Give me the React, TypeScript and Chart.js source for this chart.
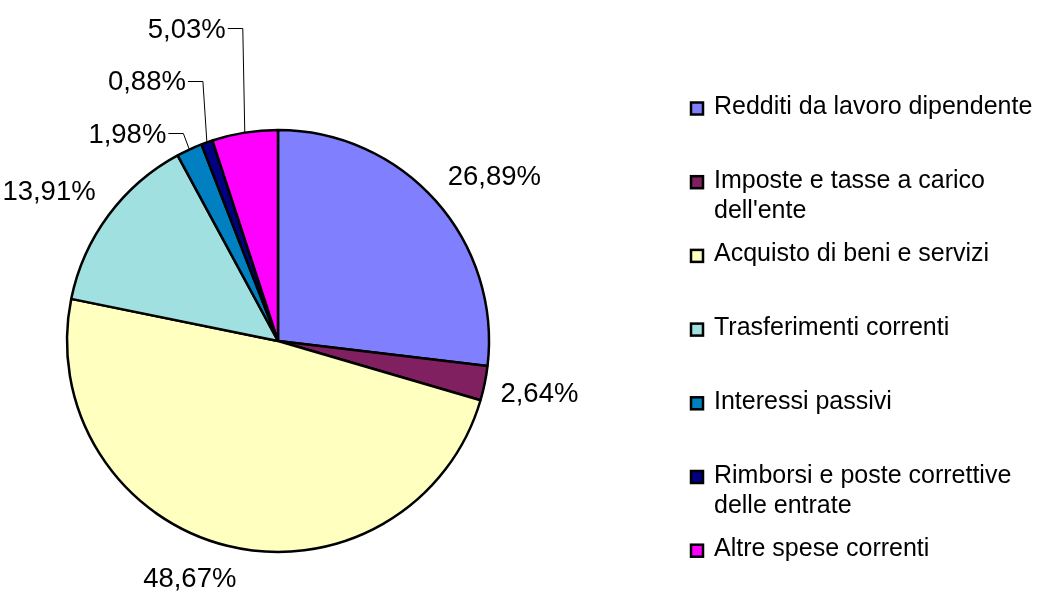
import React, { useEffect, useRef } from "react";
import { Chart, registerables } from "chart.js";

Chart.register(...registerables);

const categories = [
  "Redditi da lavoro dipendente",
  "Imposte e tasse a carico dell'ente",
  "Acquisto di beni e servizi",
  "Trasferimenti correnti",
  "Interessi passivi",
  "Rimborsi e poste correttive delle entrate",
  "Altre spese correnti",
];
const values = [26.89, 2.64, 48.67, 13.91, 1.98, 0.88, 5.03];
const colors = ["#8080FF", "#802060", "#FFFFC0", "#A0E0E0", "#0080C0", "#000080", "#FF00FF"];

const FONT = '"Liberation Sans", Arial, sans-serif';
const fmt = (v: number) => v.toFixed(2).replace(".", ",") + "%";
const clamp = (v: number) => Math.max(-1, Math.min(1, v));

const sliceLabels = {
  id: "sliceLabels",
  afterDatasetsDraw(chart: any) {
    const ctx = chart.ctx as CanvasRenderingContext2D;
    const meta = chart.getDatasetMeta(0);
    const fs = 27.5;
    ctx.save();
    ctx.font = `${fs}px ${FONT}`;
    ctx.fillStyle = "#000";
    ctx.strokeStyle = "#000";
    ctx.lineWidth = 1;
    const boxes = meta.data.map((arc: any, i: number) => {
      const p = arc.getProps(["x", "y", "startAngle", "endAngle", "outerRadius"], true);
      const a = (p.startAngle + p.endAngle) / 2;
      const dx = Math.cos(a);
      const dy = Math.sin(a);
      const text = fmt(values[i]);
      const w = ctx.measureText(text).width;
      const h = 31;
      const R = p.outerRadius + 16;
      const cx = p.x + R * dx + (w / 2) * clamp(3 * dx);
      const cy = p.y + R * dy + (h / 2) * clamp(2 * dy);
      return {
        text, w, h, cx, cy,
        ex: p.x + p.outerRadius * dx,
        ey: p.y + p.outerRadius * dy,
        px: p.x, py: p.y, r: p.outerRadius,
      };
    });
    const overlap = (a: any, b: any) =>
      Math.abs(a.cx - b.cx) < (a.w + b.w) / 2 && Math.abs(a.cy - b.cy) < (a.h + b.h) / 2;
    const crowded = boxes.map((b: any, k: number) =>
      boxes.some((o: any, j: number) => j !== k && overlap(b, o))
    );
    let k = 0;
    boxes.forEach((b: any, i: number) => {
      if (!crowded[i]) {
        ctx.textAlign = "center";
        ctx.textBaseline = "alphabetic";
        ctx.fillText(b.text, b.cx, b.cy + 0.355 * fs);
        return;
      }
      const ly = b.py - b.r + 3 - k * 52.5;
      const elbowX = b.ex - 6 + 2 * k;
      const right = elbowX - 17;
      ctx.beginPath();
      ctx.moveTo(right + 2, Math.round(ly) + 0.5);
      ctx.lineTo(elbowX, Math.round(ly) + 0.5);
      ctx.lineTo(b.ex, b.ey);
      ctx.stroke();
      ctx.textAlign = "right";
      ctx.textBaseline = "alphabetic";
      ctx.fillText(b.text, right, ly + 0.355 * fs);
      k++;
    });
    ctx.restore();
  },
};

const sideLegend = {
  id: "sideLegend",
  afterDraw(chart: any) {
    const ctx = chart.ctx as CanvasRenderingContext2D;
    const fs = 25;
    const left = chart.width - 350;
    const textX = left + 24;
    const maxW = 330;
    const firstBase = 114;
    const step = 73.7;
    const lineH = 30.5;
    ctx.save();
    ctx.font = `${fs}px ${FONT}`;
    ctx.textAlign = "left";
    ctx.textBaseline = "alphabetic";
    categories.forEach((label, i) => {
      const base = firstBase + i * step;
      const words = label.split(" ");
      const lines: string[] = [];
      let cur = "";
      words.forEach((w) => {
        const t = cur ? cur + " " + w : w;
        if (ctx.measureText(t).width > maxW && cur) {
          lines.push(cur);
          cur = w;
        } else cur = t;
      });
      if (cur) lines.push(cur);
      ctx.fillStyle = colors[i];
      ctx.fillRect(left + 1, base - 11.5, 12, 12);
      ctx.strokeStyle = "#000";
      ctx.lineWidth = 2.5;
      ctx.strokeRect(left + 1, base - 11.5, 12, 12);
      ctx.fillStyle = "#000";
      lines.forEach((ln, j) => ctx.fillText(ln, textX, base + j * lineH));
    });
    ctx.restore();
  },
};

export default function App() {
  const ref = useRef<HTMLCanvasElement>(null);
  useEffect(() => {
    if (!ref.current) return;
    const chart = new Chart(ref.current, {
      type: "pie",
      data: {
        labels: categories,
        datasets: [
          {
            data: values,
            backgroundColor: colors,
            borderColor: "#000",
            borderWidth: 2.5,
            radius: 211,
          } as any,
        ],
      },
      options: {
        responsive: false,
        animation: false,
        events: [],
        layout: { padding: { left: 0, right: 484, top: 87, bottom: 0 } },
        plugins: {
          legend: { display: false },
          tooltip: { enabled: false },
        },
      },
      plugins: [sliceLabels, sideLegend],
    });
    return () => chart.destroy();
  }, []);
  return (
    <div style={{ position: "fixed", left: 0, top: 0, width: 1040, height: 595, background: "#fff" }}>
      <canvas ref={ref} width={1040} height={595} style={{ width: 1040, height: 595 }} />
    </div>
  );
}
